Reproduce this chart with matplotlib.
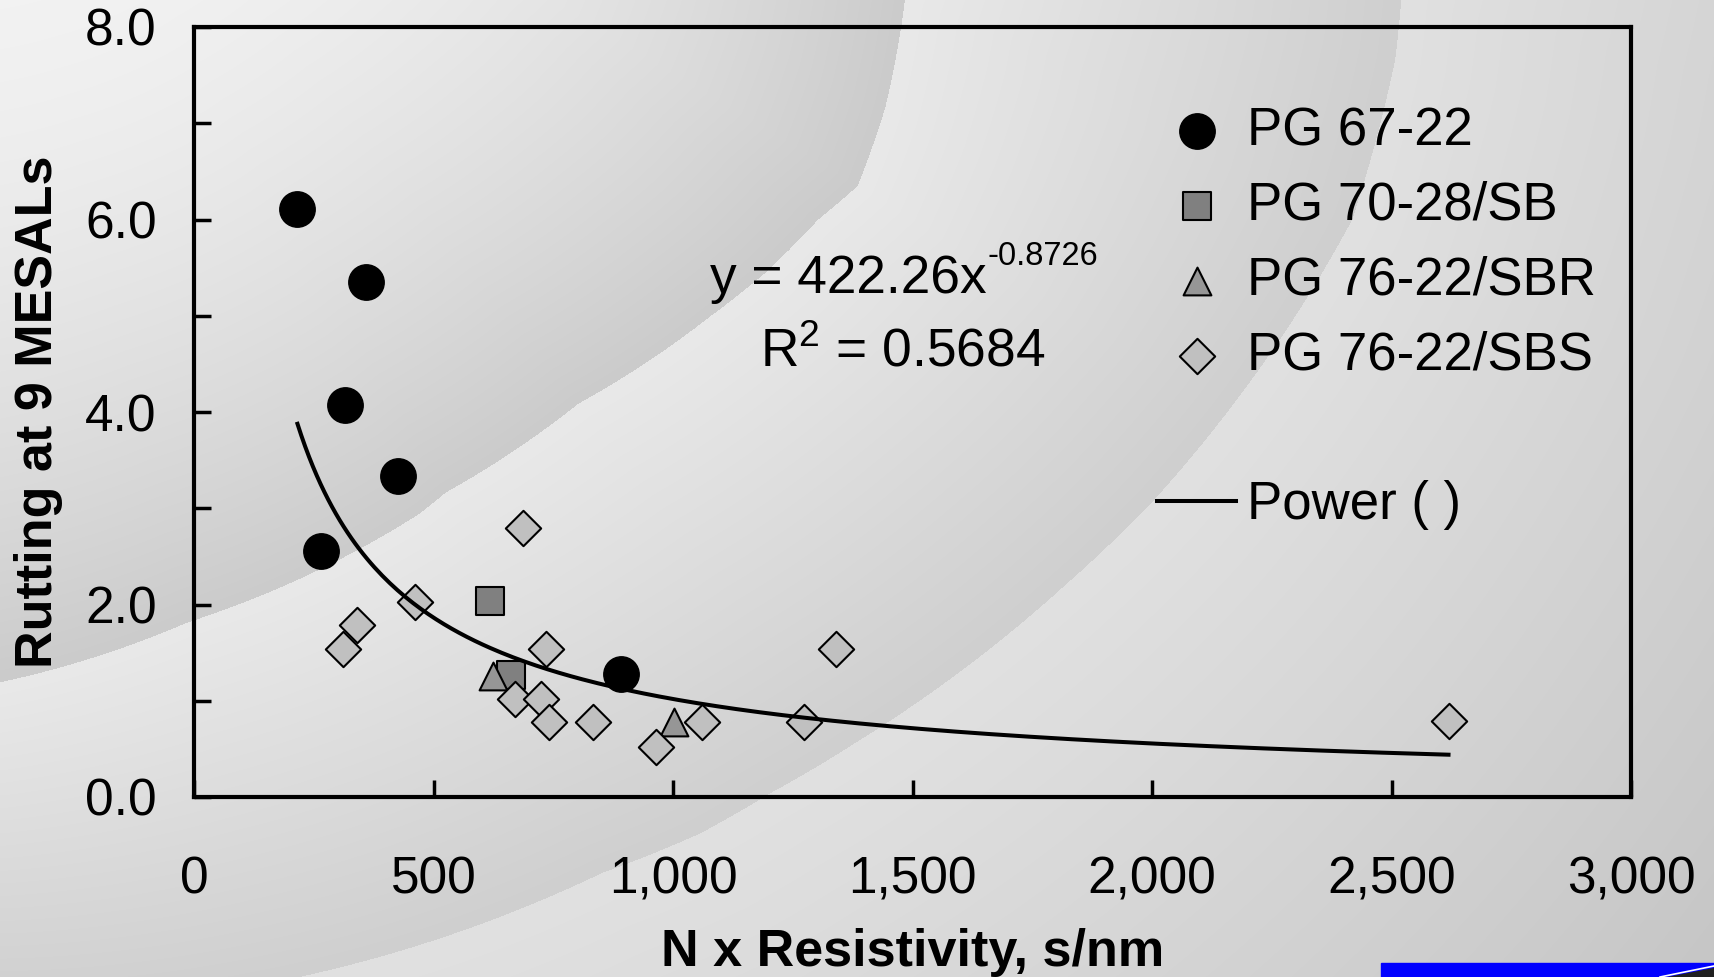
import numpy as np
import matplotlib
matplotlib.use('Agg')
import matplotlib.pyplot as plt
from matplotlib.lines import Line2D
from matplotlib.patches import Rectangle, Polygon
from matplotlib.ticker import FixedLocator, FuncFormatter

plt.rcParams['font.family'] = ['Liberation Sans', 'DejaVu Sans']
plt.rcParams['mathtext.fontset'] = 'custom'
plt.rcParams['mathtext.rm'] = 'Liberation Sans'
plt.rcParams['mathtext.default'] = 'regular'

# ---------------- data ----------------
series_labels = ['PG 67-22', 'PG 70-28/SB', 'PG 76-22/SBR', 'PG 76-22/SBS']
pg6722_x = [216, 359, 315, 425, 266, 891]
pg6722_y = [6.11, 5.35, 4.07, 3.33, 2.56, 1.28]
pg7028sb_x = [617, 661]
pg7028sb_y = [2.04, 1.27]
pg7622sbr_x = [625, 1003]
pg7622sbr_y = [1.26, 0.78]
pg7622sbs_x = [312, 340, 461, 686, 734, 670, 725, 741, 833, 965, 1060, 1273, 1340, 2619]
pg7622sbs_y = [1.54, 1.79, 2.03, 2.80, 1.54, 1.02, 1.02, 0.78, 0.78, 0.52, 0.78, 0.78, 1.54, 0.785]
trend_label = 'Power ( )'
power_coef = 422.26
power_exp = -0.8726
r_squared = 0.5684
x_ticks = [0, 500, 1000, 1500, 2000, 2500, 3000]
y_ticks = [0, 1, 2, 3, 4, 5, 6, 7, 8]
x_label = 'N x Resistivity, s/nm'
y_label = 'Rutting at 9 MESALs'

# ---------------- figure ----------------
W, H = 1714, 977
fig = plt.figure(figsize=(W / 100, H / 100), dpi=100)

# background: shaded swoosh bands (decorative)
yy, xx = np.mgrid[0:H, 0:W] + 0.5
cx, cy = -38.0, -362.0
rr = np.hypot(xx - cx, yy - cy)
th = np.degrees(np.arctan2(yy - cy, xx - cx))
a_th = [21.0, 27.0, 31.45, 34.2, 38.3, 42.2, 51.15, 60.5, 62.4, 75.2, 77.1, 87.9]
a_r = [1010, 1036, 1050, 1035, 1024, 1010, 983, 982, 988, 1007, 1010, 1045]
b_th = [14.1, 16.4, 22.7, 26.2, 35.9, 40.65, 51.0, 55.0, 58.3, 62.6, 90.0]
b_r = [1484, 1494, 1507, 1498, 1471, 1454, 1421, 1410, 1405, 1391, 1370]
rA = np.interp(th, a_th, a_r)
rB = np.interp(th, b_th, b_r)
lvl = np.empty_like(rr)
mA = rr < rA
mB = (rr >= rA) & (rr < rB)
mC = rr >= rB
tA = np.clip((rr - 300) / (rA - 300), 0, 1) ** 1.6
tB = np.clip((rr - rA) / (rB - rA), 0, 1)
tC = np.clip((rr - rB) / (2250 - rB), 0, 1)
lvl[mA] = (243 - 40 * tA)[mA]
lvl[mB] = (233 - 26 * tB)[mB]
lvl[mC] = (225 - 29 * tC)[mC]
img = np.repeat((lvl / 255.0)[:, :, None], 3, axis=2)
fig.figimage(img, xo=0, yo=0, origin='upper', zorder=-5)

# blue bar bottom right
fig.add_artist(Rectangle((1381 / W, 0), (W - 1381) / W, 14 / H,
                         transform=fig.transFigure, color='#0000ff', zorder=5))
fig.add_artist(Polygon([(1668 / W, 0), (1714 / W, 0), (1714 / W, 9 / H)],
                       closed=True, transform=fig.transFigure, color='#202020', zorder=6))
fig.add_artist(Line2D([1660 / W, 1714 / W], [0, 11 / H], transform=fig.transFigure,
                      color='white', lw=1.2, zorder=7))

ax = fig.add_axes([194 / W, 1 - 797 / H, (1631 - 194) / W, (797 - 27) / H])
ax.patch.set_visible(False)

edge_lw = 1.5
s1 = ax.scatter(pg6722_x, pg6722_y, s=25.5 ** 2, marker='o', c='black',
                edgecolors='black', linewidths=1.0, zorder=3, label=series_labels[0])
s2 = ax.scatter(pg7028sb_x, pg7028sb_y, s=20.5 ** 2, marker='s', c='#808080',
                edgecolors='black', linewidths=edge_lw, zorder=4, label=series_labels[1])
s3 = ax.scatter(pg7622sbr_x, pg7622sbr_y, s=20.0 ** 2, marker='^', c='#969696',
                edgecolors='black', linewidths=edge_lw, zorder=5, label=series_labels[2])
s4 = ax.scatter(pg7622sbs_x, pg7622sbs_y, s=18.0 ** 2, marker='D', c='#c0c0c0',
                edgecolors='black', linewidths=edge_lw, zorder=6, label=series_labels[3])

all_x = pg6722_x + pg7028sb_x + pg7622sbr_x + pg7622sbs_x
xs = np.linspace(min(all_x), max(all_x), 300)
ys = power_coef * xs ** power_exp
ln, = ax.plot(xs, ys, color='black', lw=2.9, zorder=7, label=trend_label)

ax.set_xlim(0, 3000)
ax.set_ylim(0, 8)

for sp in ax.spines.values():
    sp.set_linewidth(3.0)
    sp.set_color('black')

ax.xaxis.set_major_locator(FixedLocator(x_ticks))
ax.yaxis.set_major_locator(FixedLocator(y_ticks))
ax.xaxis.set_major_formatter(FuncFormatter(lambda v, p: f'{int(v):,}'))
ax.yaxis.set_major_formatter(FuncFormatter(lambda v, p: f'{v:.1f}' if int(round(v)) % 2 == 0 else ''))
ax.tick_params(axis='both', direction='in', length=12, width=2.5, labelsize=37, colors='black')
ax.tick_params(axis='x', pad=42)
ax.tick_params(axis='y', pad=27)

ax.set_xlabel(x_label, fontsize=37.5, fontweight='bold')
ax.xaxis.set_label_coords(0.5, -0.170)
ax.set_ylabel(y_label, fontsize=37.5, fontweight='bold')
ax.yaxis.label.set_va('center')
ax.yaxis.set_label_coords(-0.1079, 0.5)

# trendline equation: main text + hyphenated superscript
t_eq = ax.text(1078, 5.234, 'y = 422.26x', ha='left', va='baseline', fontsize=38.3)
ax.annotate(f'{power_exp}', xy=(1, 0), xycoords=t_eq, xytext=(0.5, 28.5),
            textcoords='offset points', ha='left', va='baseline', fontsize=23.5)
ax.text(1480, 4.476, f'R$^{{2}}$ = {r_squared}', ha='center', va='baseline', fontsize=38.3)

blank = Line2D([], [], linestyle='none')
leg = ax.legend([s1, s2, s3, s4, blank, ln], series_labels + [' ', trend_label],
                loc='upper left', bbox_to_anchor=(1157 / W, 1 - 106 / H),
                bbox_transform=fig.transFigure, frameon=False, fontsize=38,
                handlelength=1.5, handletextpad=0.2, labelspacing=0.47,
                borderpad=0, borderaxespad=0, scatterpoints=1)

fig.savefig('out.png', dpi=100)
